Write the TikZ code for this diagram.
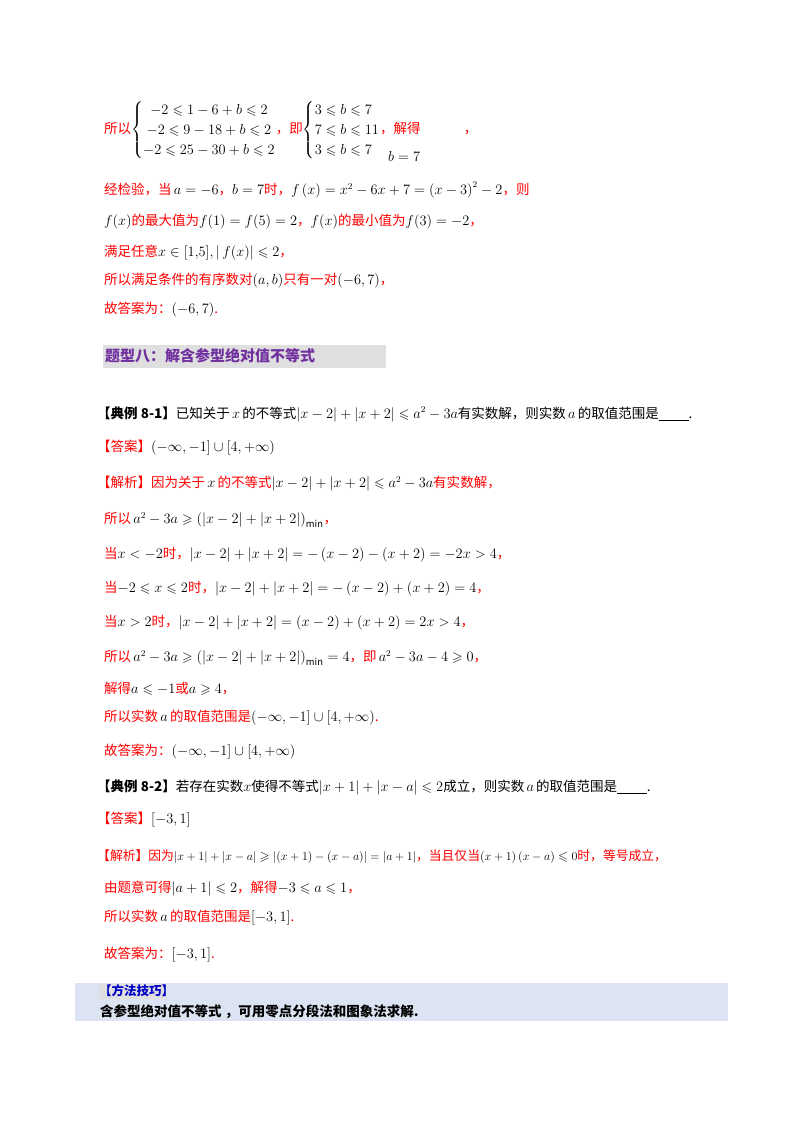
\documentclass[tikz,border=0pt]{standalone}
\usepackage{amsmath,amssymb}
\usepackage{fontspec}
\setmainfont{Noto Sans CJK SC}
\definecolor{rd}{RGB}{255,0,0}
\definecolor{pu}{RGB}{112,48,160}
\definecolor{bl}{RGB}{0,0,200}
\definecolor{bx}{RGB}{220,227,243}
\newcommand{\R}[1]{\textcolor{rd}{#1}}
\tikzset{ln/.style={anchor=west,inner sep=0pt,font=\fontsize{13.5}{16}\selectfont}}
\begin{document}
\begin{tikzpicture}[x=1pt,y=-1pt]
\useasboundingbox (0,0) rectangle (800,1132);
\node[ln] (l1) at (104,130) {\renewcommand{\arraystretch}{1.25}\R{所以}$\left\{\begin{array}{@{}c@{}}-2\leqslant 1-6+b\leqslant 2\\ -2\leqslant 9-18+b\leqslant 2\\ -2\leqslant 25-30+b\leqslant 2\end{array}\right.$\R{，即}$\left\{\begin{array}{@{}l@{}}3\leqslant b\leqslant 7\\ 7\leqslant b\leqslant 11\\ 3\leqslant b\leqslant 7\end{array}\right.$\R{，解得}\hspace{3.2em}\R{，}};
\node[ln] (l1b) at (388,156) {$b=7$};
\node[ln] (l2) at (104,190) {\R{经检验，当}\,$a=-6$\R{，}$b=7$\R{时，}$f\left(x\right)=x^2-6x+7=\left(x-3\right)^2-2$\R{，则}};
\node[ln] (l3) at (104,222) {$f(x)$\R{的最大值为}$f(1)=f(5)=2$\R{，}$f(x)$\R{的最小值为}$f(3)=-2$\R{，}};
\node[ln] (l4) at (104,253) {\R{满足任意}$x\in[1{,}5],|\,f(x)|\leqslant 2$\R{，}};
\node[ln] (l5) at (104,281) {\R{所以满足条件的有序数对}$(a,b)$\R{只有一对}$(-6,7)$\R{，}};
\node[ln] (l6) at (104,310) {\R{故答案为：}$(-6,7)$\R{.}};
\fill[gray!25] (103,345) rectangle (386,368);
\node[ln,text=pu,font=\fontsize{15}{18}\selectfont\bfseries] (h) at (105,356) {题型八：解含参型绝对值不等式};
\node[ln] (e1) at (97,414) {\textbf{【典例 8-1】}已知关于\,$x$\,的不等式$\left|x-2\right|+\left|x+2\right|\leqslant a^2-3a$有实数解，则实数\,$a$\,的取值范围是\underline{\hspace{2.2em}}.};
\node[ln] (a1) at (97,448) {\R{【答案】}$\left(-\infty,-1\right]\cup\left[4,+\infty\right)$};
\node[ln] (j1) at (97,484) {\R{【解析】因为关于}\,$x$\,\R{的不等式}$\left|x-2\right|+\left|x+2\right|\leqslant a^2-3a$\R{有实数解，}};
\node[ln] (j2) at (104,520) {\R{所以}\,$a^2-3a\geqslant\left(\left|x-2\right|+\left|x+2\right|\right)_{\min}$\R{，}};
\node[ln] (j3) at (104,555) {\R{当}$x<-2$\R{时，}$\left|x-2\right|+\left|x+2\right|=-\left(x-2\right)-\left(x+2\right)=-2x>4$\R{，}};
\node[ln] (j4) at (104,589) {\R{当}$-2\leqslant x\leqslant 2$\R{时，}$\left|x-2\right|+\left|x+2\right|=-\left(x-2\right)+\left(x+2\right)=4$\R{，}};
\node[ln] (j5) at (104,623) {\R{当}$x>2$\R{时，}$\left|x-2\right|+\left|x+2\right|=\left(x-2\right)+\left(x+2\right)=2x>4$\R{，}};
\node[ln] (j6) at (104,658) {\R{所以}\,$a^2-3a\geqslant\left(\left|x-2\right|+\left|x+2\right|\right)_{\min}=4$\R{，即}\,$a^2-3a-4\geqslant 0$\R{，}};
\node[ln] (j7) at (104,689) {\R{解得}$a\leqslant -1$\R{或}$a\geqslant 4$\R{，}};
\node[ln] (j8) at (104,718) {\R{所以实数}\,$a$\,\R{的取值范围是}$\left(-\infty,-1\right]\cup\left[4,+\infty\right)$\R{.}};
\node[ln] (j9) at (104,752) {\R{故答案为：}$\left(-\infty,-1\right]\cup\left[4,+\infty\right)$};
\node[ln] (e2) at (97,787) {\textbf{【典例 8-2】}若存在实数$x$使得不等式$|x+1|+|x-a|\leqslant 2$成立，则实数\,$a$\,的取值范围是\underline{\hspace{2.2em}}.};
\node[ln] (a2) at (97,820) {\R{【答案】}$\left[-3,1\right]$};
\node[ln,font=\fontsize{12.8}{15}\selectfont] (k1) at (97,857) {\R{【解析】因为}$\left|x+1\right|+\left|x-a\right|\geqslant\left|\left(x+1\right)-\left(x-a\right)\right|=\left|a+1\right|$\R{，当且仅当}$\left(x+1\right)\left(x-a\right)\leqslant 0$\R{时，等号成立，}};
\node[ln] (k2) at (104,889) {\R{由题意可得}$\left|a+1\right|\leqslant 2$\R{，解得}$-3\leqslant a\leqslant 1$\R{，}};
\node[ln] (k3) at (104,918) {\R{所以实数}\,$a$\,\R{的取值范围是}$\left[-3,1\right]$\R{.}};
\node[ln] (k4) at (104,955) {\R{故答案为：}$\left[-3,1\right]$\R{.}};
\fill[bx] (75,983) rectangle (728,1021);
\fill[gray!25] (99,984) rectangle (166,999);
\node[ln,text=bl,font=\fontsize{12.5}{15}\selectfont\bfseries] (m1) at (99,991) {【方法技巧】};
\node[ln,font=\fontsize{13.5}{16}\selectfont\bfseries] (m2) at (100,1012) {含参型绝对值不等式 ，可用零点分段法和图象法求解.};
\end{tikzpicture}
\end{document}
